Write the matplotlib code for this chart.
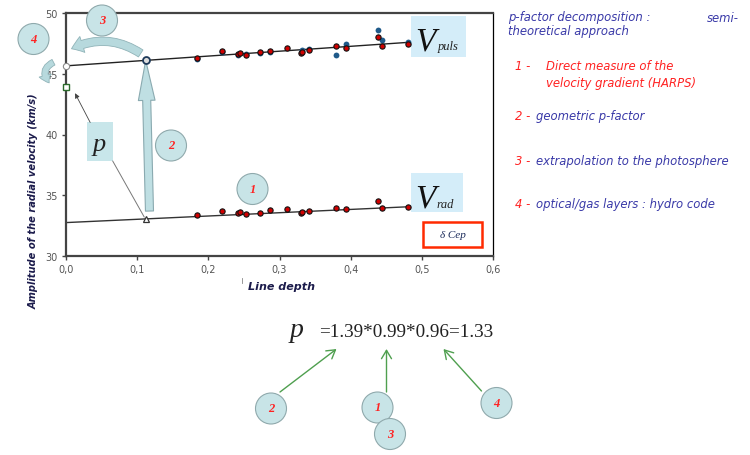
import matplotlib.pyplot as plt
import numpy as np
from matplotlib.patches import Rectangle, Circle, FancyArrowPatch
from matplotlib.ticker import FuncFormatter

# line depth of each spectral line
depth = [0.184, 0.219, 0.241, 0.245, 0.2525, 0.273, 0.286, 0.311, 0.330, 0.331,
         0.342, 0.380, 0.394, 0.438, 0.4435, 0.480]
# radial velocity amplitude of each line (km/s)
v_rad = [33.35, 33.70, 33.54, 33.60, 33.43, 33.57, 33.76, 33.84, 33.54, 33.65,
         33.70, 33.98, 33.84, 34.53, 33.98, 34.03]
# pulsation velocity amplitude (red set)
v_puls_a = [46.32, 46.84, 46.66, 46.70, 46.54, 46.78, 46.89, 47.10, 46.68, 46.80,
            46.95, 47.30, 47.10, 48.00, 47.30, 47.44]
# pulsation velocity amplitude (blue set)
depth_b = [0.184, 0.219, 0.241, 0.2525, 0.273, 0.286, 0.331, 0.342, 0.380, 0.394,
           0.438, 0.444, 0.480]
v_puls_b = [46.22, 46.75, 46.58, 46.62, 46.72, 46.82, 46.95, 47.00, 46.55, 47.44,
            48.63, 47.80, 47.62]

# linear fits
fit_depth = [0.0, 0.48]
fit_rad = [32.75, 34.05]
fit_puls = [45.65, 47.58]

# extrapolated points
geo_depth = 0.112
geo_rad = 33.05
geo_puls = 46.10
photo_puls = 45.65
hydro_puls = 43.93

factors = [1.39, 0.99, 0.96]
p_total = 1.33

NAVY = '#3a3aa8'
RED = '#ff2222'
BUBBLE_FC = '#c8e4e7'
BUBBLE_EC = '#8fa9ac'
COMIC = dict(family='DejaVu Sans', style='italic')

fig = plt.figure(figsize=(7.5, 4.56), dpi=100)
W, H = 750.0, 456.0

ax = fig.add_axes([66 / W, 1 - 257 / H, 427 / W, 243 / H])
ax.set_xlim(0, 0.6)
ax.set_ylim(30, 50)
ax.set_xticks(np.arange(0, 0.61, 0.1))
ax.set_yticks([30, 35, 40, 45, 50])
ax.xaxis.set_major_formatter(FuncFormatter(lambda v, _: f'{v:.1f}'.replace('.', ',')))
ax.tick_params(direction='out', length=3, width=1, color='#444', labelcolor='#555',
               labelsize=7, pad=3)
for side in ['left', 'bottom', 'top']:
    ax.spines[side].set_color('#444')
    ax.spines[side].set_linewidth(1.6)
ax.spines['right'].set_linewidth(0.9)

# fitted lines
ax.plot(fit_depth, fit_puls, color='#222', lw=1.0, zorder=2)
ax.plot(fit_depth, fit_rad, color='#333', lw=1.0, zorder=2)

# measurements
ax.plot(depth_b, v_puls_b, 'o', color='#1f5a8a', ms=4.2, mew=0, zorder=3)
ax.plot(depth, v_puls_a, 'o', mfc='#d00000', mec='#111', ms=3.8, mew=0.8, zorder=4)
ax.plot(depth, v_rad, 'o', mfc='#d00000', mec='#111', ms=3.8, mew=0.8, zorder=4)

# geometric p-factor arrow
ax.annotate('', xy=(geo_depth, geo_puls), xytext=(0.1173, 33.7),
            arrowprops=dict(arrowstyle='simple,head_length=1.44,head_width=0.6,tail_width=0.29',
                            fc='#bfdfe3', ec='#8aaab0', lw=0.8, mutation_scale=20,
                            shrinkA=0, shrinkB=0), zorder=3)

# extrapolated markers
ax.plot([0], [photo_puls], 'o', mfc='white', mec='#888', ms=4.5, mew=0.8, clip_on=False, zorder=6)
ax.plot([geo_depth], [geo_puls], 'o', mfc='#ddd', mec='#1f3a5a', ms=5, mew=1.3, zorder=6)
ax.plot([geo_depth], [geo_rad], '^', mfc='white', mec='#333', ms=5, mew=0.9, zorder=6)
ax.plot([0], [hydro_puls], 's', mfc='white', mec='#2a6a2a', ms=4, mew=1.0, clip_on=False, zorder=6)

# "p" box with its pointers
ax.add_patch(Rectangle((0.029, 37.82), 0.0366, 3.17, fc='#c8e6ea', ec='none', zorder=5))
ax.text(0.047, 39.2, 'p', family='Liberation Serif', style='italic', fontsize=19,
        ha='center', va='center', color='#222', zorder=6)
ax.annotate('', xy=(0.0126, 43.4), xytext=(0.034, 40.99),
            arrowprops=dict(arrowstyle='-|>', color='#444', lw=0.6, mutation_scale=7,
                            shrinkA=0, shrinkB=0), zorder=5)
ax.annotate('', xy=(geo_depth - 0.002, geo_rad + 0.15), xytext=(0.0656, 37.82),
            arrowprops=dict(arrowstyle='-', color='#777', lw=0.7, shrinkA=0, shrinkB=0), zorder=5)

# velocity labels
ax.add_patch(Rectangle((0.485, 46.35), 0.077, 3.43, fc='#d4edf9', ec='none', zorder=1))
ax.text(0.4904, 47.03, 'V', family='Liberation Serif', style='italic', fontsize=24,
        color='#111', va='baseline')
ax.text(0.5227, 47.03, 'puls', family='Liberation Serif', style='italic', fontsize=9,
        color='#222', va='baseline')
ax.add_patch(Rectangle((0.4843, 33.62), 0.0731, 3.25, fc='#d4edf9', ec='none', zorder=1))
ax.text(0.4904, 34.05, 'V', family='Liberation Serif', style='italic', fontsize=24,
        color='#111', va='baseline')
ax.text(0.5213, 34.05, 'rad', family='Liberation Serif', style='italic', fontsize=9,
        color='#222', va='baseline')

ax.add_patch(Rectangle((0.502, 30.77), 0.083, 2.03, fc='white', ec='#ff2a00', lw=1.8, zorder=5))
ax.text(0.5435, 31.75, 'δ Cep', family='Liberation Serif', style='italic', fontsize=8,
        color='#1a2a5a', ha='center', va='center', zorder=6)

fig.text(282 / W, 1 - 287 / H, 'Line depth', ha='center', va='center', fontsize=8,
         weight='bold', color='#1b1b4b', **COMIC)
fig.text(34 / W, 1 - 201 / H, 'Amplitude of the radial velocity (km/s)', rotation=90,
         ha='center', va='center', fontsize=7.1, weight='bold', color='#1b1b4b', **COMIC)

# overlay in pixel units for the decorations
ov = fig.add_axes([0, 0, 1, 1], zorder=5)
ov.set_xlim(0, W)
ov.set_ylim(H, 0)
ov.axis('off')
ov.patch.set_alpha(0)
ov.plot([242, 242], [279, 284], color='#888', lw=0.6)


def bubble(x, y, label):
    ov.add_patch(Circle((x, y), 15.5, fc=BUBBLE_FC, ec=BUBBLE_EC, lw=0.8))
    ov.text(x, y, label, ha='center', va='center', color=RED, fontsize=9,
            style='italic', weight='bold', family='Liberation Serif')


ov.add_patch(FancyArrowPatch((143, 56), (69, 51), connectionstyle='arc3,rad=0.3',
                             arrowstyle='simple,head_length=0.7,head_width=1.0,tail_width=0.5',
                             mutation_scale=12, fc='#b7d9dd', ec='#90b3b8', lw=0.6))
ov.add_patch(FancyArrowPatch((56, 62), (51, 86), connectionstyle='arc3,rad=0.7',
                             arrowstyle='simple,head_length=0.6,head_width=0.9,tail_width=0.45',
                             mutation_scale=10, fc='#b7d9dd', ec='#90b3b8', lw=0.6))
bubble(102, 21.5, '3')
bubble(33.5, 40, '4')
bubble(171, 146.5, '2')
bubble(252.5, 190, '1')

# right-hand notes
def note(x, y, s, color=NAVY):
    fig.text(x / W, 1 - y / H, s, ha='left', va='center', fontsize=8.4, color=color, **COMIC)


note(508, 18, 'p-factor decomposition :')
note(707, 18, 'semi-')
note(508, 32, 'theoretical approach')
note(515, 67, '1 -', RED)
note(545.5, 67, 'Direct measure of the', RED)
note(545.5, 83, 'velocity gradient (HARPS)', RED)
note(515, 117, '2 -', RED)
note(536.5, 117, 'geometric p-factor')
note(515, 161.5, '3 -', RED)
note(536.5, 161.5, 'extrapolation to the photosphere')
note(515, 205, '4 -', RED)
note(536.5, 205, 'optical/gas layers : hydro code')

# product of the factors
ov.text(290, 337, 'p', family='Liberation Serif', style='italic', fontsize=20,
        color='#222', va='baseline')
eq = '=' + '*'.join(f'{f:.2f}' for f in factors) + f'={p_total:.2f}'
ov.text(319, 337, eq, family='Liberation Serif', fontsize=13.8, color='#222', va='baseline')

for x0, y0, x1, y1 in [(280, 393, 336.5, 350), (386.5, 393, 386.5, 350), (481.5, 392, 443.5, 350)]:
    ov.annotate('', xy=(x1, y1), xytext=(x0, y0),
                arrowprops=dict(arrowstyle='->,head_length=0.5,head_width=0.3', color='#4f9f4f',
                                lw=1.0, mutation_scale=12, shrinkA=0, shrinkB=0))
bubble(271, 409.5, '2')
bubble(377.5, 408.5, '1')
bubble(390, 435, '3')
bubble(496.5, 404, '4')

fig.savefig('out.png', dpi=100)
